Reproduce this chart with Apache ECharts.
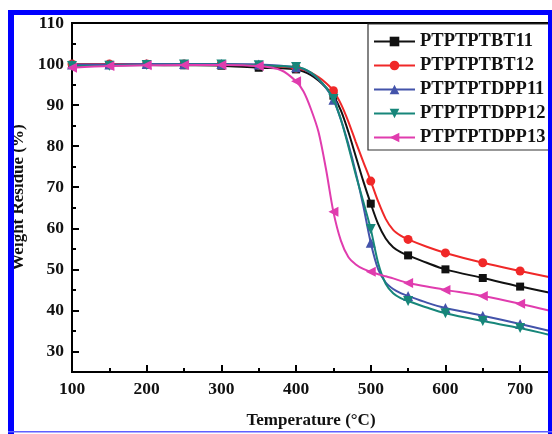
<!DOCTYPE html>
<html>
<head>
<meta charset="utf-8">
<script src="https://cdn.jsdelivr.net/npm/echarts@6/dist/echarts.min.js"></script>
<style>
html,body{margin:0;padding:0;background:#fff;}
#c{width:552px;height:434px;}
</style>
</head>
<body>
<div id="c"></div>
<script>
// Data
var temps = [100,150,200,250,300,350,380,400,410,420,430,440,450,460,470,480,490,500,510,520,530,540,550,575,600,650,700,740];
var seriesNames = ['PTPTPTBT11','PTPTPTBT12','PTPTPTDPP11','PTPTPTDPP12','PTPTPTDPP13'];
var bt11  = [99.8,99.8,99.8,99.7,99.6,99.1,99.0,98.7,98.2,97.3,96.0,94.3,92.3,88.7,83.5,77.5,71.5,66.0,61.0,57.5,55.4,54.2,53.4,51.6,50.0,47.9,45.8,44.3];
var bt12  = [100,100,100,100,99.9,99.7,99.4,99.0,98.6,97.9,96.8,95.4,93.5,90.3,86.0,81.0,76.2,71.5,66.5,62.3,59.6,58.2,57.3,55.5,54.0,51.6,49.6,48.1];
var dpp11 = [99.9,99.9,100,100,100,99.9,99.6,99.2,98.8,97.8,96.3,94.2,91.3,86.5,80.5,73.5,65.5,56.5,50.0,46.8,45.2,44.2,43.5,41.9,40.6,38.7,36.7,35.0];
var dpp12 = [99.5,99.6,99.8,99.9,99.9,99.7,99.5,99.3,98.9,97.9,96.4,94.3,91.5,86.5,80.0,73.0,66.5,59.8,51.5,46.5,44.2,43.0,42.3,40.7,39.3,37.4,35.7,34.0];
var dpp13 = [99.1,99.5,99.7,99.8,99.8,99.5,98.5,95.8,93.3,89.0,83.5,74.5,64.0,57.0,53.0,51.2,50.1,49.4,48.8,48.3,47.8,47.2,46.7,45.8,45.0,43.5,41.6,39.9];
var yTickLabels = [30,40,50,60,70,80,90,100,110];
var yMinorTicks = [35,45,55,65,75,85,95,105];
var xTickLabels = [100,200,300,400,500,600,700];
var xMinorTicks = [150,250,350,450,550,650];

var allValues = [bt11, bt12, dpp11, dpp12, dpp13];
var colors = ['#111111','#f02828','#4353aa','#17867a','#e03cae'];
var symbols = ['rect','circle','triangle','triangle','triangle'];
var rotations = [0,0,0,180,90];
var sizes = [8,9,10,10,10];

var FONT = '"Liberation Serif","Times New Roman",serif';

function pairs(vals){ return temps.map(function(t,i){ return [t, vals[i]]; }); }

var series = seriesNames.map(function(name, k){
  return {
    name: name,
    type: 'line',
    smooth: 0.3,
    data: pairs(allValues[k]),
    xAxisIndex: 0, yAxisIndex: 0,
    symbol: symbols[k],
    symbolRotate: rotations[k],
    symbolSize: function(v){ return (v[0] % 50 === 0 && v[0] <= 700) ? sizes[k] : 0; },
    showAllSymbol: true,
    lineStyle: { color: colors[k], width: 2 },
    itemStyle: { color: colors[k], borderWidth: 0 },
    emphasis: { disabled: true },
    z: 2 + k
  };
});

var chart = echarts.init(document.getElementById('c'), null, {renderer: 'canvas'});
chart.setOption({
  animation: false,
  backgroundColor: '#ffffff',
  grid: { left: 72, right: 2, top: 23, bottom: 60, show: true, borderColor: '#000', borderWidth: 2, containLabel: false },
  legend: {
    orient: 'vertical',
    left: 368, top: 24,
    padding: [8, 5, 3, 5],
    backgroundColor: '#fff',
    borderColor: '#333', borderWidth: 1.2,
    itemWidth: 41, itemHeight: 12, itemGap: 5,
    textStyle: { fontFamily: FONT, fontWeight: 'bold', fontSize: 18.5, color: '#111', lineHeight: 18 },
    data: seriesNames
  },
  xAxis: [{
    type: 'value', min: 100, max: 740,
    position: 'bottom',
    name: 'Temperature (°C)', nameLocation: 'middle', nameGap: 40,
    nameTextStyle: { fontFamily: FONT, fontWeight: 'bold', fontSize: 17, color: '#111' },
    axisLine: { show: true, lineStyle: { color: '#000', width: 2 } },
    axisTick: { show: true, inside: true, length: 7, customValues: xTickLabels, lineStyle: { color: '#000', width: 2 } },
    axisLabel: { customValues: xTickLabels, margin: 8, fontFamily: FONT, fontWeight: 'bold', fontSize: 17.5, color: '#111' },
    splitLine: { show: false }
  },{
    type: 'value', min: 100, max: 740, position: 'bottom',
    axisLine: { show: false },
    axisTick: { show: true, inside: true, length: 4, customValues: xMinorTicks, lineStyle: { color: '#000', width: 2 } },
    axisLabel: { show: false },
    splitLine: { show: false }
  }],
  yAxis: [{
    type: 'value', min: 25, max: 110,
    position: 'left',
    name: 'Weight Residue (%)', nameLocation: 'middle', nameGap: 35, nameRotate: 90,
    nameTextStyle: { fontFamily: FONT, fontWeight: 'bold', fontSize: 17, color: '#111' },
    axisLine: { show: true, lineStyle: { color: '#000', width: 2 } },
    axisTick: { show: true, inside: true, length: 7, customValues: yTickLabels, lineStyle: { color: '#000', width: 2 } },
    axisLabel: { customValues: yTickLabels, margin: 8, fontFamily: FONT, fontWeight: 'bold', fontSize: 17.5, color: '#111' },
    splitLine: { show: false }
  },{
    type: 'value', min: 25, max: 110, position: 'left',
    axisLine: { show: false },
    axisTick: { show: true, inside: true, length: 4, customValues: yMinorTicks, lineStyle: { color: '#000', width: 2 } },
    axisLabel: { show: false },
    splitLine: { show: false }
  }],
  series: series,
  graphic: [
    { type: 'rect', shape: { x: 8, y: 10, width: 6, height: 424 }, style: { fill: '#0000ff' }, z: 100 },
    { type: 'rect', shape: { x: 8, y: 10, width: 544, height: 5 }, style: { fill: '#0000ff' }, z: 100 },
    { type: 'rect', shape: { x: 548, y: 10, width: 4, height: 424 }, style: { fill: '#0000ff' }, z: 100 },
    { type: 'rect', shape: { x: 8, y: 431, width: 544, height: 1.5 }, style: { fill: '#6060ff' }, z: 100 }
  ]
});
</script>
</body>
</html>
